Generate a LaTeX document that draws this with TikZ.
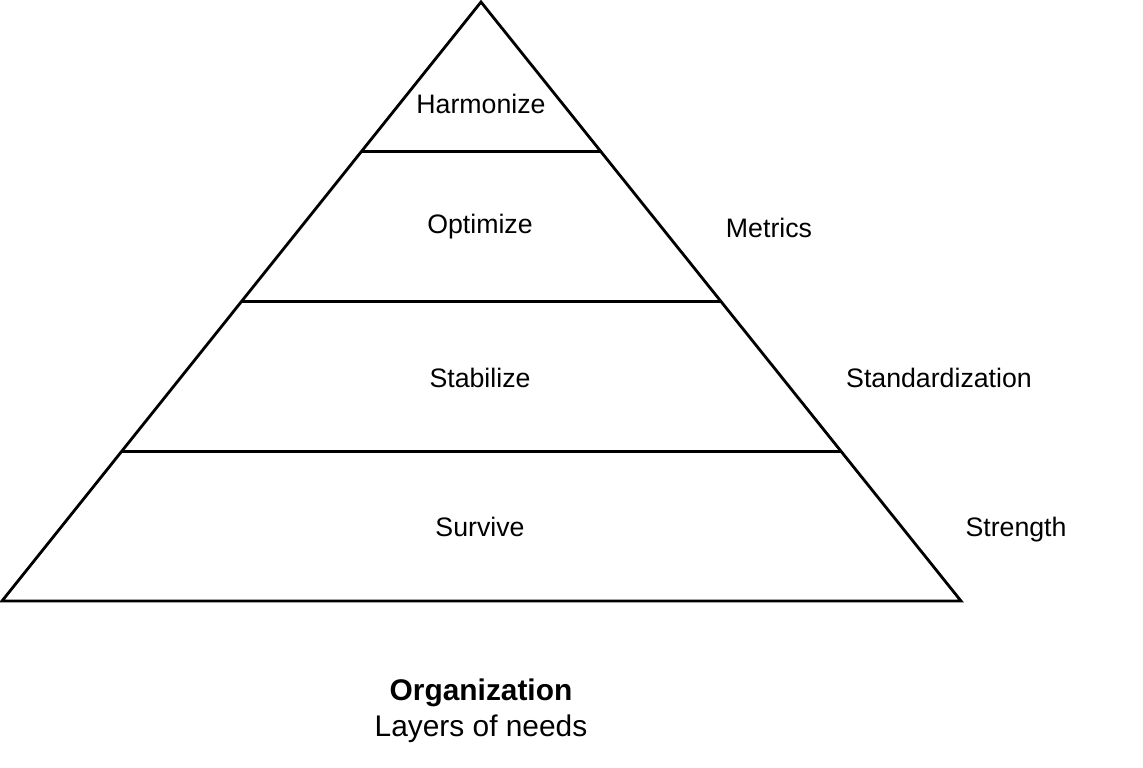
\documentclass[tikz,border=0pt]{standalone}
\usepackage{fontspec}
\setmainfont{Liberation Sans}
\usetikzlibrary{calc}
\begin{document}
\begin{tikzpicture}[x=1cm,y=1cm,
  lbl/.style={font=\fontsize{7.6}{9}\selectfont, text height=1.55ex, text depth=0pt},
  legende/.style={font=\fontsize{8.5}{10.3}\selectfont, align=center}]
\useasboundingbox (0,0) rectangle (11.43,7.68);
%pyramide
\coordinate (apex) at (4.81,7.66);
\coordinate (bl) at (0.02,1.67);
\coordinate (br) at (9.61,1.67);
\draw[thick] (apex) -- (br) -- (bl) -- cycle;
%niveaux
\foreach \f/\n in {0.25/a,0.5/b,0.75/c}{
  \draw[thick] ($(apex)!\f!(bl)$) coordinate (l\n) -- ($(apex)!\f!(br)$) coordinate (r\n);
}
%textes
\node[lbl] (harmonize) at (4.81,6.69) {Harmonize};
\node[lbl] (optimize) at (4.80,5.49) {Optimize};
\node[lbl] (stabilize) at (4.80,3.95) {Stabilize};
\node[lbl] (survive) at (4.80,2.46) {Survive};
\node[lbl] (metrics) at (7.69,5.45) {Metrics};
\node[lbl] (standard) at (9.39,3.95) {Standardization};
\node[lbl] (strength) at (10.16,2.46) {Strength};
%legende
\node[legende] (org) at (4.81,0.57) {\textbf{Organization}\\Layers of needs};
\end{tikzpicture}
\end{document}
